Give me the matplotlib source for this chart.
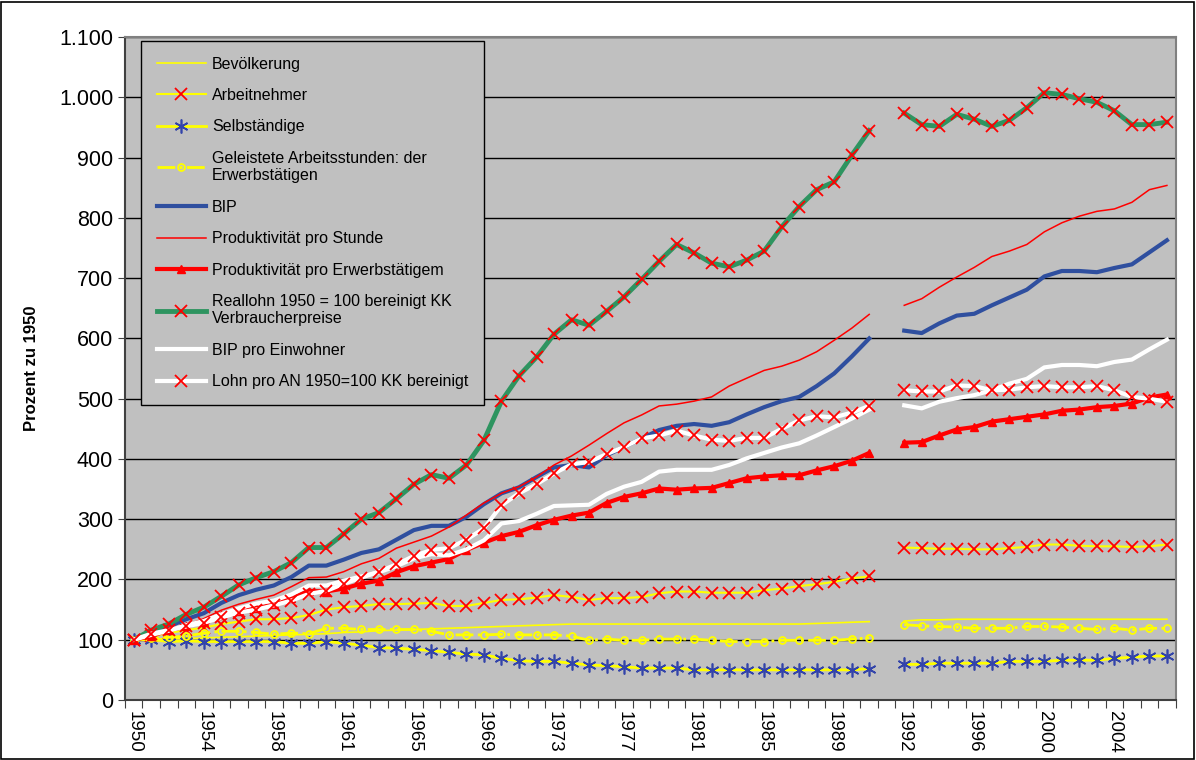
import numpy as np
import matplotlib
matplotlib.use('Agg')
import matplotlib.pyplot as plt
from matplotlib.ticker import FuncFormatter
from matplotlib.patches import Rectangle

plt.rcParams['font.family'] = ['Liberation Sans', 'DejaVu Sans']

# category axis: 1960 appears twice (with/without Saarland+Berlin), empty slot at the 1991 break
years = ([str(y) for y in range(1950, 1961)] + ['1960']
         + [str(y) for y in range(1961, 1992)] + ['']
         + [str(y) for y in range(1992, 2008)])

nan = np.nan

bevoelkerung = [100, 101, 102, 102, 103, 104, 105, 106, 107, 108, 109, 110, 112, 113, 115, 116, 117,
                118, 119, 120, 121, 122, 123, 124, 125, 126, 126, 126, 126, 126, 126, 126, 126, 126,
                126, 126, 126, 126, 126, 127, 128, 129, 130, nan,
                131, 133, 133, 134, 134, 134, 134, 134, 134, 134, 134, 134, 134, 134, 134, 134]
arbeitnehmer = [100, 106, 111, 116, 120, 126, 130, 134, 134, 136, 141, 150, 154, 156, 159, 159, 160,
                161, 156, 156, 161, 166, 167, 170, 174, 171, 166, 169, 169, 171, 177, 180, 180, 178,
                178, 178, 182, 185, 189, 192, 196, 202, 205, nan,
                253, 252, 251, 251, 250, 250, 252, 254, 258, 258, 256, 255, 255, 254, 255, 258]
selbstaendige = [100, 100, 97, 98, 97, 97, 97, 97, 97, 94, 94, 97, 94, 91, 87, 86, 84,
                 82, 79, 76, 75, 69, 65, 64, 64, 61, 58, 57, 55, 53, 53, 53, 50, 50,
                 50, 50, 50, 50, 50, 50, 50, 50, 52, nan,
                 59, 59, 61, 61, 61, 61, 64, 64, 64, 66, 66, 66, 69, 71, 73, 73]
arbeitsstunden = [100, 103, 104, 106, 111, 114, 114, 112, 109, 111, 110, 119, 119, 117, 117, 117, 117,
                  114, 108, 108, 108, 109, 108, 108, 108, 106, 99, 101, 99, 99, 101, 101, 101, 99,
                  97, 97, 97, 99, 99, 99, 99, 101, 103, nan,
                  125, 123, 122, 121, 119, 119, 119, 122, 122, 121, 119, 117, 119, 116, 119, 119]
bip = [100, 112, 122, 134, 144, 161, 174, 183, 190, 204, 223, 223, 233, 244, 250, 266, 282,
       289, 289, 304, 325, 343, 353, 370, 386, 390, 386, 406, 420, 434, 448, 455, 458, 455,
       461, 474, 486, 496, 503, 521, 542, 570, 600, nan,
       613, 609, 625, 638, 641, 655, 668, 681, 703, 712, 712, 710, 717, 723, 743, 763]
prod_stunde = [100, 109, 116, 124, 135, 149, 159, 167, 174, 188, 203, 204, 213, 226, 235, 252, 262,
               272, 287, 307, 327, 343, 354, 370, 390, 405, 423, 442, 460, 473, 488, 491, 496, 503,
               521, 534, 547, 554, 564, 578, 597, 617, 640, nan,
               655, 666, 685, 702, 718, 736, 745, 756, 777, 792, 803, 811, 815, 826, 847, 854]
prod_et = [100, 106, 116, 122, 130, 141, 148, 152, 159, 169, 181, 180, 185, 193, 198, 212, 222,
           228, 234, 249, 261, 272, 279, 290, 299, 306, 311, 327, 337, 343, 351, 349, 351, 352,
           360, 368, 371, 373, 373, 381, 388, 397, 410, nan,
           427, 428, 439, 449, 453, 462, 466, 470, 474, 480, 482, 486, 488, 492, 502, 507]
reallohn = [100, 116, 126, 142, 154, 172, 191, 203, 213, 228, 253, 253, 276, 300, 311, 334, 358,
            374, 368, 390, 431, 496, 538, 569, 607, 631, 622, 645, 669, 698, 728, 756, 742, 725,
            719, 730, 745, 785, 819, 847, 860, 904, 945, nan,
            974, 955, 952, 972, 964, 952, 962, 983, 1008, 1005, 998, 992, 978, 955, 955, 959]
bip_einw = [100, 108, 115, 124, 131, 142, 152, 160, 165, 175, 190, 190, 198, 205, 212, 222, 235,
            242, 240, 250, 265, 293, 297, 309, 322, 323, 324, 342, 354, 362, 379, 382, 382, 382,
            390, 401, 410, 419, 426, 439, 453, 467, 482, nan,
            489, 484, 495, 501, 506, 514, 525, 533, 552, 556, 556, 554, 561, 565, 582, 598]
lohn_an = [100, 110, 116, 122, 128, 137, 145, 150, 157, 165, 176, 181, 193, 203, 213, 225, 239,
           249, 252, 266, 285, 323, 343, 358, 376, 391, 395, 408, 420, 434, 439, 447, 439, 432,
           430, 435, 435, 450, 464, 471, 469, 477, 488, nan,
           514, 512, 512, 522, 521, 514, 515, 519, 521, 519, 519, 521, 514, 503, 500, 495]

labels = ['Bevölkerung', 'Arbeitnehmer', 'Selbständige',
          'Geleistete Arbeitsstunden: der\nErwerbstätigen', 'BIP',
          'Produktivität pro Stunde', 'Produktivität pro Erwerbstätigem',
          'Reallohn 1950 = 100 bereinigt KK\nVerbraucherpreise',
          'BIP pro Einwohner', 'Lohn pro AN 1950=100 KK bereinigt']

YELLOW = '#FFFF00'
RED = '#FF0000'
BLUE = '#2F4F9F'
STAR_BLUE = '#3344AA'
GREEN = '#2E9460'
BG = '#C0C0C0'

x = np.arange(len(years))

fig = plt.figure(figsize=(11.96, 7.6), dpi=100)
ax = fig.add_axes([0.1045, 0.079, 0.8785, 0.872])
ax.set_facecolor(BG)

def arr(v):
    return np.array(v, dtype=float)

ax.plot(x, arr(bevoelkerung), color=YELLOW, lw=1.2, label=labels[0])
ax.plot(x, arr(arbeitnehmer), color=YELLOW, lw=1.5, marker='x', ms=8, mec=RED, mew=1.3,
        label=labels[1])
ax.plot(x, arr(selbstaendige), color=YELLOW, lw=2, marker=(6, 2, 0), ms=10, mec=STAR_BLUE,
        mew=1.2, label=labels[2])
ax.plot(x, arr(arbeitsstunden), color=YELLOW, lw=2, ls='-.', marker='o', ms=5, mfc='none',
        mec=YELLOW, mew=1.3, label=labels[3])
ax.plot(x, arr(bip), color=BLUE, lw=3, label=labels[4])
ax.plot(x, arr(prod_stunde), color=RED, lw=1.1, label=labels[5])
ax.plot(x, arr(prod_et), color=RED, lw=3, marker='^', ms=6, mec=RED, mfc=RED, label=labels[6])
ax.plot(x, arr(reallohn), color=GREEN, lw=3.5, marker='x', ms=9, mec=RED, mew=1.3,
        label=labels[7])
ax.plot(x, arr(bip_einw), color='white', lw=3, label=labels[8])
ax.plot(x, arr(lohn_an), color='white', lw=3, marker='x', ms=9, mec=RED, mew=1.3,
        label=labels[9])

# axes / grid
ax.set_xlim(-0.5, len(years) - 0.5)
ax.set_ylim(0, 1100)
ax.set_yticks(np.arange(0, 1101, 100))
ax.yaxis.set_major_formatter(FuncFormatter(lambda v, p: f'{int(v):,}'.replace(',', '.')))
ax.yaxis.grid(True, color='black', lw=1)
ax.set_axisbelow(True)
ax.tick_params(axis='y', labelsize=15.5, length=5, color='#404040')

ax.set_xticks(np.arange(-0.5, len(years), 1))
ax.set_xticklabels([])
ax.set_xticks(x[::4], [years[i] for i in x[::4]], minor=True)
ax.tick_params(axis='x', which='major', length=6, color='#404040')
ax.tick_params(axis='x', which='minor', length=0, labelsize=13.5, rotation=-90, pad=8)

for side in ['left', 'bottom']:
    ax.spines[side].set_color('#404040')
    ax.spines[side].set_linewidth(1.5)
for side in ['top', 'right']:
    ax.spines[side].set_color('#808080')
    ax.spines[side].set_linewidth(1.5)

ax.set_ylabel('Prozent zu 1950', fontweight='bold', fontsize=12, labelpad=14)

leg = ax.legend(loc='upper left', bbox_to_anchor=(0.015, 0.995), borderaxespad=0,
                fontsize=11.5, numpoints=1, handlelength=3.1, handletextpad=0.35,
                labelspacing=1.03, borderpad=1.0, fancybox=False, framealpha=1,
                facecolor=BG, edgecolor='black')
leg.get_frame().set_linewidth(1)

# outer frame of the picture
fig.patches.append(Rectangle((0.001, 0.001), 0.997, 0.997, transform=fig.transFigure,
                             fill=False, edgecolor='black', lw=1.2))

fig.savefig('out.png', dpi=100)
